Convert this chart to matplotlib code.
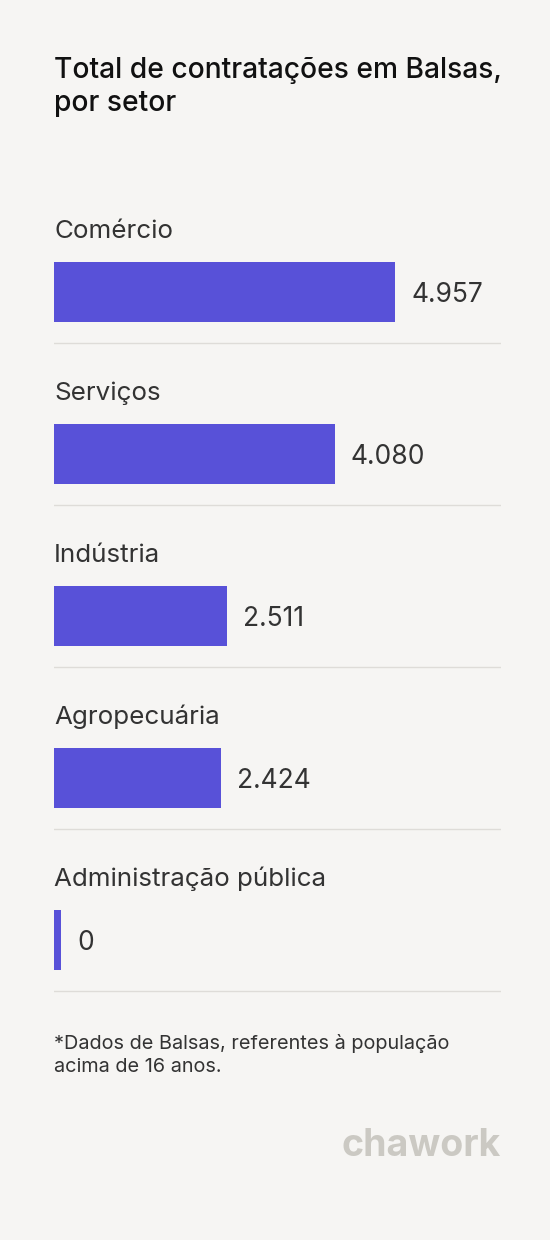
import matplotlib.pyplot as plt

categories = ["Comércio", "Serviços", "Indústria", "Agropecuária", "Administração pública"]
values = [4957, 4080, 2511, 2424, 0]
value_labels = ["4.957", "4.080", "2.511", "2.424", "0"]

BAR = "#5851d8"
BG = "#f6f5f3"
W, H = 550, 1240

fig = plt.figure(figsize=(W / 100, H / 100), dpi=100)
fig.patch.set_facecolor(BG)
plt.rcParams["font.family"] = ["Inter", "DejaVu Sans"]

# axes spans x 54..501 px, full height; data x scale: 4957 -> 341 px
ax = fig.add_axes([54 / W, 0, 447 / W, 1])
ax.set_facecolor("none")
xmax = 4957 * 447 / 341
ax.set_xlim(0, xmax)
ax.set_ylim(H, 0)
ax.axis("off")
px = xmax / 447  # data units per pixel

step = 162
for i, (cat, v, lab) in enumerate(zip(categories, values, value_labels)):
    yc = 292 + step * i
    w = max(v, 7 * px)
    ax.barh(yc, w, height=60, color=BAR)
    ax.text(0, yc - 61, cat, fontsize=18.7, color="#333333", va="center", ha="left")
    ax.text(w + 16 * px, yc + 3, lab, fontsize=19, color="#333333", va="center", ha="left")
    ax.plot([0, xmax], [yc + 51, yc + 51], color="#dedcd8", lw=1)

fig.text(54 / W, 1 - 87 / H, "Total de contratações em Balsas,\npor setor", fontsize=20.3,
         color="#111111", va="center", ha="left", linespacing=1.3, fontweight="medium")
fig.text(54 / W, 1 - 1055 / H, "*Dados de Balsas, referentes à população\nacima de 16 anos.",
         fontsize=14.3, color="#333333", va="center", ha="left", linespacing=1.3)
fig.text(501 / W, 1 - 1146 / H, "chawork", fontsize=27, fontweight="bold", color="#cbc9c3",
         va="center", ha="right")

fig.savefig("out.png", dpi=100, facecolor=BG)
